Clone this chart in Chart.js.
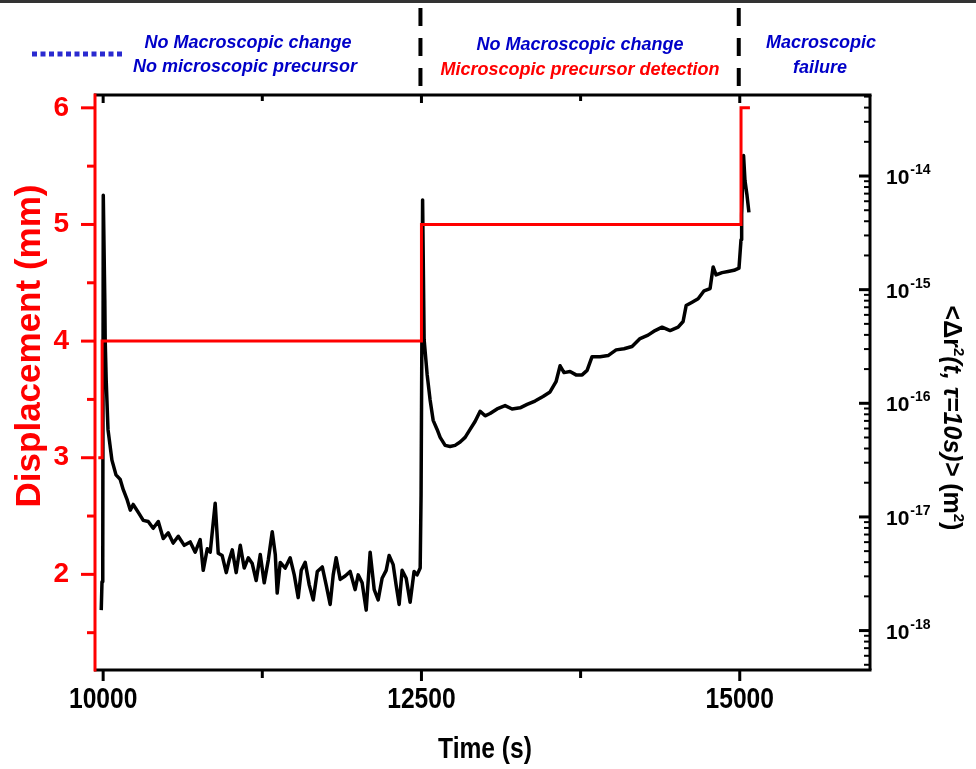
<!DOCTYPE html>
<html>
<head>
<meta charset="utf-8">
<script src="https://cdn.jsdelivr.net/npm/chart.js@4.4.0/dist/chart.umd.min.js"></script>
<style>
html, body { margin: 0; padding: 0; background: #fff; }
#wrap { width: 976px; height: 769px; }
</style>
</head>
<body>
<div id="wrap"><canvas id="chart" width="976" height="769"></canvas></div>
<script>
const msdTime = [
    9985, 9991, 9997, 10001, 10013, 10016, 10024, 10038, 10069, 10101,
    10134, 10158, 10189, 10213, 10236, 10276, 10315, 10354, 10393, 10433,
    10472, 10511, 10550, 10590, 10637, 10684, 10723, 10762, 10786, 10818,
    10841, 10880, 10904, 10935, 10967, 10990, 11014, 11045, 11077, 11108,
    11140, 11171, 11202, 11234, 11265, 11297, 11328, 11352, 11367, 11391,
    11430, 11469, 11501, 11532, 11556, 11587, 11619, 11650, 11682, 11721,
    11752, 11783, 11807, 11830, 11862, 11901, 11940, 11979, 12003, 12034,
    12066, 12097, 12129, 12160, 12191, 12223, 12246, 12278, 12301, 12325,
    12348, 12380, 12411, 12442, 12466, 12490, 12497, 12509, 12521, 12545,
    12568, 12592, 12623, 12647, 12686, 12725, 12764, 12804, 12843, 12882,
    12921, 12961, 13000, 13039, 13094, 13157, 13212, 13275, 13330, 13392,
    13455, 13510, 13557, 13589, 13620, 13667, 13714, 13762, 13801, 13840,
    13903, 13966, 14029, 14091, 14154, 14217, 14280, 14335, 14390, 14453,
    14516, 14555, 14579, 14626, 14673, 14720, 14767, 14791, 14814, 14861,
    14908, 14955, 14994, 15010, 15015, 15030, 15041, 15057, 15072
];
const msdExp = [
    -17.82, -17.57, -17.38, -14.17, -15.09, -15.44, -15.80, -16.23, -16.50, -16.63,
    -16.67, -16.76, -16.85, -16.94, -16.89, -16.96, -17.03, -17.04, -17.10, -17.04,
    -17.19, -17.14, -17.23, -17.17, -17.25, -17.22, -17.31, -17.20, -17.47, -17.28,
    -17.31, -16.88, -17.32, -17.34, -17.49, -17.38, -17.29, -17.49, -17.25, -17.45,
    -17.36, -17.41, -17.56, -17.33, -17.58, -17.38, -17.13, -17.33, -17.67, -17.40,
    -17.45, -17.36, -17.51, -17.71, -17.47, -17.40, -17.60, -17.73, -17.48, -17.44,
    -17.60, -17.77, -17.51, -17.36, -17.55, -17.52, -17.48, -17.64, -17.51, -17.58,
    -17.82, -17.31, -17.64, -17.73, -17.54, -17.47, -17.34, -17.42, -17.60, -17.77,
    -17.47, -17.54, -17.75, -17.48, -17.51, -17.45, -16.81, -14.21, -15.44, -15.75,
    -15.97, -16.15, -16.23, -16.30, -16.37, -16.38, -16.37, -16.34, -16.30, -16.23,
    -16.16, -16.07, -16.11, -16.09, -16.05, -16.02, -16.05, -16.04, -16.01, -15.98,
    -15.94, -15.90, -15.81, -15.67, -15.73, -15.72, -15.75, -15.75, -15.71, -15.59,
    -15.59, -15.58, -15.53, -15.52, -15.50, -15.43, -15.40, -15.36, -15.33, -15.36,
    -15.33, -15.28, -15.14, -15.11, -15.08, -15.01, -14.99, -14.80, -14.87, -14.85,
    -14.84, -14.83, -14.81, -14.56, -14.34, -13.82, -14.04, -14.17, -14.32
];

// displacement (mm), a staircase
const dispTime = [9962, 9992, 9992, 12500, 12500, 15010, 15010, 15080];
const dispMm = [3, 3, 4, 4, 5, 5, 6, 6];

// ticks
const timeMajor = [10000, 12500, 15000];
const timeMinor = [11250, 13750];
const dispMajor = [2, 3, 4, 5, 6];
const dispMinor = [1.5, 2.5, 3.5, 4.5, 5.5];
const msdDecades = [-18, -17, -16, -15, -14];

// phase boundaries (dashed markers above the plot)
const phaseBounds = [12500, 15000];

function line(ctx, x1, y1, x2, y2, color, w) {
    ctx.beginPath();
    ctx.strokeStyle = color;
    ctx.lineWidth = w;
    ctx.moveTo(x1, y1);
    ctx.lineTo(x2, y2);
    ctx.stroke();
}

function condensed(ctx, text, cx, cy, font, sx, color) {
    ctx.save();
    ctx.translate(cx, cy);
    ctx.scale(sx, 1);
    ctx.font = font;
    ctx.fillStyle = color;
    ctx.textAlign = 'center';
    ctx.textBaseline = 'middle';
    ctx.fillText(text, 0, 0);
    ctx.restore();
}

function pieces(ctx, parts, cx, cy, rot, base) {
    ctx.save();
    ctx.translate(cx, cy);
    ctx.rotate(rot);
    ctx.textAlign = 'left';
    ctx.textBaseline = 'alphabetic';
    let total = 0;
    parts.forEach(p => {
        ctx.font = p.font;
        p.w = ctx.measureText(p.text).width;
        total += p.w;
    });
    let px = -total / 2;
    parts.forEach(p => {
        ctx.font = p.font;
        ctx.fillStyle = p.color || '#000';
        ctx.fillText(p.text, px, base + (p.rise || 0));
        px += p.w;
    });
    ctx.restore();
}

const decor = {
    id: 'decor',
    afterDraw(chart) {
        const ctx = chart.ctx;
        const a = chart.chartArea;
        const sx = chart.scales.x, sy = chart.scales.y, sr = chart.scales.y2;
        ctx.save();
        ctx.lineCap = 'butt';

        // strip at the very top of the picture
        ctx.fillStyle = '#333';
        ctx.fillRect(0, 0, 976, 3);

        // frame
        line(ctx, a.left - 1, a.top, a.right + 1.5, a.top, '#000', 3);
        line(ctx, a.left - 1, a.bottom, a.right + 1.5, a.bottom, '#000', 3);
        line(ctx, a.right, a.top, a.right, a.bottom, '#000', 3);
        line(ctx, a.left, a.top - 1.5, a.left, a.bottom + 1.5, '#ff0000', 3);

        // time ticks, outside at the bottom and mirrored inside at the top
        timeMajor.forEach(v => {
            const px = sx.getPixelForValue(v);
            line(ctx, px, a.bottom, px, a.bottom + 11, '#000', 3);
            line(ctx, px, a.top, px, a.top + 8, '#000', 3);
            condensed(ctx, String(v), px, 700, 'bold 30px "Liberation Sans"', 0.82, '#000');
        });
        timeMinor.forEach(v => {
            const px = sx.getPixelForValue(v);
            line(ctx, px, a.bottom, px, a.bottom + 8, '#000', 3);
            line(ctx, px, a.top, px, a.top + 6, '#000', 3);
        });

        // displacement ticks
        dispMajor.forEach(v => {
            const py = sy.getPixelForValue(v);
            line(ctx, a.left - 14, py, a.left, py, '#ff0000', 3);
        });
        dispMinor.forEach(v => {
            const py = sy.getPixelForValue(v);
            line(ctx, a.left - 8, py, a.left, py, '#ff0000', 3);
        });

        // log ticks, inward on the right axis
        for (let d = -19; d <= -14; d++) {
            for (let m = 1; m <= 9; m++) {
                const v = m * Math.pow(10, d);
                if (v < sr.min || v > sr.max) continue;
                const py = sr.getPixelForValue(v);
                if (m === 1) line(ctx, a.right - 11, py, a.right, py, '#000', 3);
                else line(ctx, a.right - 6, py, a.right, py, '#000', 2);
            }
        }
        msdDecades.forEach(d => {
            const py = sr.getPixelForValue(Math.pow(10, d));
            ctx.fillStyle = '#000';
            ctx.textAlign = 'left';
            ctx.textBaseline = 'alphabetic';
            ctx.font = 'bold 21px "Liberation Sans"';
            ctx.fillText('10', a.right + 16, py + 8);
            const w = ctx.measureText('10').width;
            ctx.font = 'bold 14px "Liberation Sans"';
            ctx.fillText(String(d), a.right + 16 + w + 1, py - 2);
        });

        // axis titles
        pieces(ctx, [{text: 'Displacement (mm)', font: 'bold 35px "Liberation Sans"', color: '#ff0000'}],
            28, 346, -Math.PI / 2, 12);
        condensed(ctx, 'Time (s)', 485, 750, 'bold 30px "Liberation Sans"', 0.82, '#000');
        const f = '"Liberation Sans"';
        pieces(ctx, [
            {text: '<\u0394r', font: 'bold 25px ' + f},
            {text: '2', font: 'bold 15px ' + f, rise: -10},
            {text: '(t, \u03c4=10s)>', font: 'italic bold 25px ' + f},
            {text: ' (m', font: 'bold 25px ' + f},
            {text: '2', font: 'bold 15px ' + f, rise: -10},
            {text: ')', font: 'bold 25px ' + f}
        ], 952, 418, Math.PI / 2, 8);

        // phase annotations above the plot
        ctx.setLineDash([18, 12]);
        phaseBounds.forEach(v => {
            const px = sx.getPixelForValue(v) - 1;
            line(ctx, px, 8, px, 88, '#000', 4);
        });
        ctx.setLineDash([5, 3.5]);
        line(ctx, 32, 54, 122, 54, '#2a2ad0', 5);
        ctx.setLineDash([]);

        const blue = '#0000c8', red = '#ff0000';
        ctx.textAlign = 'center';
        ctx.textBaseline = 'middle';
        ctx.font = 'italic bold 18px "Liberation Sans"';
        [
            ['No Macroscopic change', 248, 43, blue],
            ['No microscopic precursor', 245, 67, blue],
            ['No Macroscopic change', 580, 45, blue],
            ['Microscopic precursor detection', 580, 70, red],
            ['Macroscopic', 821, 43, blue],
            ['failure', 820, 68, blue]
        ].forEach(([t, x, y, c]) => {
            ctx.fillStyle = c;
            ctx.fillText(t, x, y);
        });
        ctx.restore();
    }
};

const msdPoints = msdTime.map((t, i) => ({x: t, y: Math.pow(10, msdExp[i])}));
const dispPoints = dispTime.map((t, i) => ({x: t, y: dispMm[i]}));

const chart = new Chart(document.getElementById('chart').getContext('2d'), {
    type: 'line',
    data: {
        datasets: [
            {
                label: 'Displacement (mm)',
                data: dispPoints,
                yAxisID: 'y',
                borderColor: '#ff0000',
                borderWidth: 3,
                pointRadius: 0,
                tension: 0,
                order: 0
            },
            {
                label: '<\u0394r2>',
                data: msdPoints,
                yAxisID: 'y2',
                borderColor: '#000',
                borderWidth: 3.5,
                borderJoinStyle: 'round',
                pointRadius: 0,
                tension: 0,
                order: 1
            }
        ]
    },
    options: {
        responsive: false,
        animation: false,
        layout: { padding: { top: 95, left: 0, right: 0, bottom: 0 } },
        plugins: { legend: { display: false }, tooltip: { enabled: false } },
        scales: {
            x: {
                type: 'linear',
                min: 9936,
                max: 16023,
                grid: { display: false },
                border: { display: false },
                ticks: { display: false },
                afterFit: s => { s.height = 99; }
            },
            y: {
                type: 'linear',
                position: 'left',
                min: 1.18,
                max: 6.11,
                grid: { display: false },
                border: { display: false },
                ticks: {
                    stepSize: 0.5,
                    includeBounds: false,
                    autoSkip: false,
                    padding: 18,
                    color: '#ff0000',
                    font: { family: 'Liberation Sans', weight: 'bold', size: 28 },
                    callback: v => Number.isInteger(v) ? v : ''
                },
                afterFit: s => { s.width = 95; }
            },
            y2: {
                type: 'logarithmic',
                position: 'right',
                min: Math.pow(10, -18.347),
                max: Math.pow(10, -13.287),
                grid: { display: false },
                border: { display: false },
                ticks: { display: false },
                afterFit: s => { s.width = 106; }
            }
        }
    },
    plugins: [decor]
});
</script>
</body>
</html>
